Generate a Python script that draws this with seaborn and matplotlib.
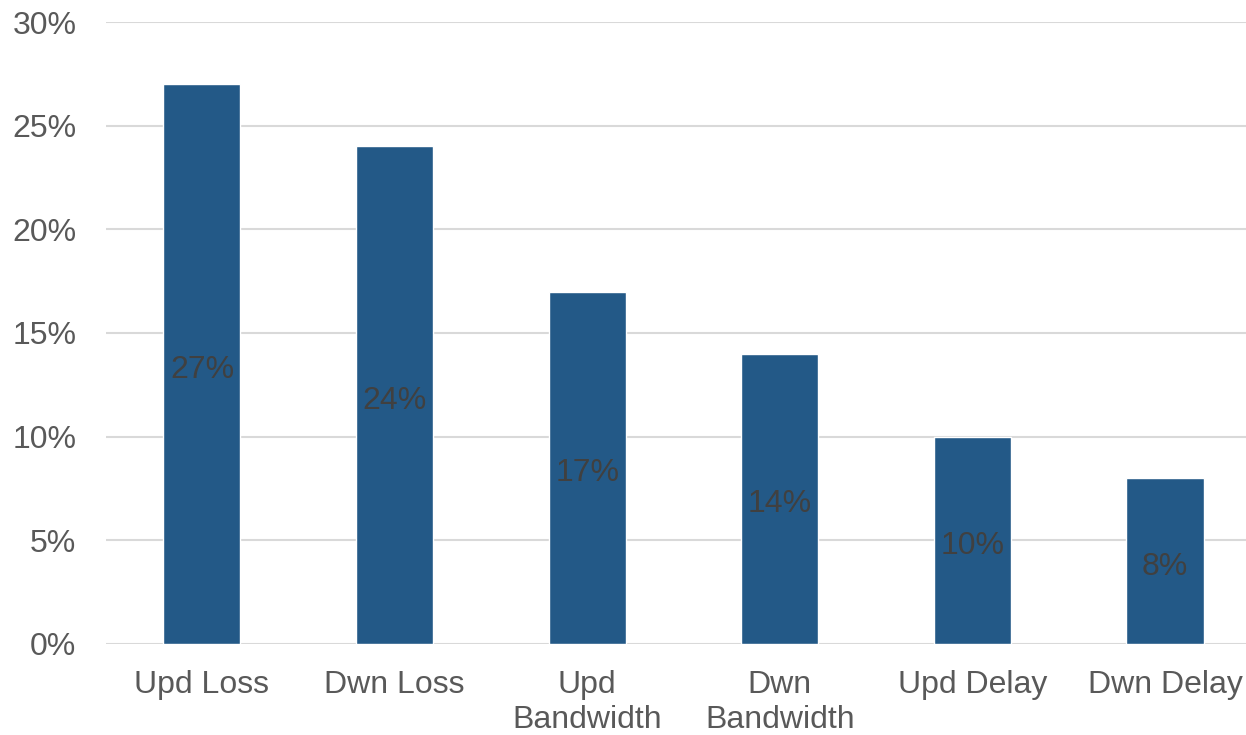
import matplotlib
matplotlib.use("Agg")
import matplotlib.pyplot as plt
import seaborn as sns
import pandas as pd
from matplotlib.ticker import PercentFormatter

categories = ["Upd Loss", "Dwn Loss", "Upd\nBandwidth", "Dwn\nBandwidth", "Upd Delay", "Dwn Delay"]
values = [27, 24, 17, 14, 10, 8]
y_ticks = [0, 5, 10, 15, 20, 25, 30]

sns.set_theme(style="white")
plt.rcParams["font.family"] = ["Liberation Sans", "DejaVu Sans"]

df = pd.DataFrame({"category": categories, "value": values})

fig = plt.figure(figsize=(12.46, 7.35), dpi=100)
ax = fig.add_axes([0.0848, 0.124, 0.9275, 0.846])

sns.barplot(data=df, x="category", y="value", color="#235987", saturation=1,
            width=0.4, ax=ax, zorder=3)

ax.set_ylim(0, 30)
ax.set_yticks(y_ticks)
ax.yaxis.set_major_formatter(PercentFormatter(decimals=0))
ax.grid(axis="y", color="#d9d9d9", linewidth=1.5, zorder=0)
ax.set_axisbelow(True)
for s in ax.spines.values():
    s.set_visible(False)
ax.set_xlabel("")
ax.set_ylabel("")
ax.tick_params(axis="y", labelsize=23, labelcolor="#595959", length=0, pad=21)
ax.tick_params(axis="x", labelsize=23, labelcolor="#595959", length=0, pad=19)
for lbl in ax.get_xticklabels():
    lbl.set_linespacing(1.2)

# value labels centred in each bar
for i, v in enumerate(values):
    ax.annotate(f"{v}%", xy=(i, v / 2), xytext=(0, -4), textcoords="offset points",
                ha="center", va="center", fontsize=23, color="#404040", zorder=4)

fig.savefig("out.png", dpi=100)
